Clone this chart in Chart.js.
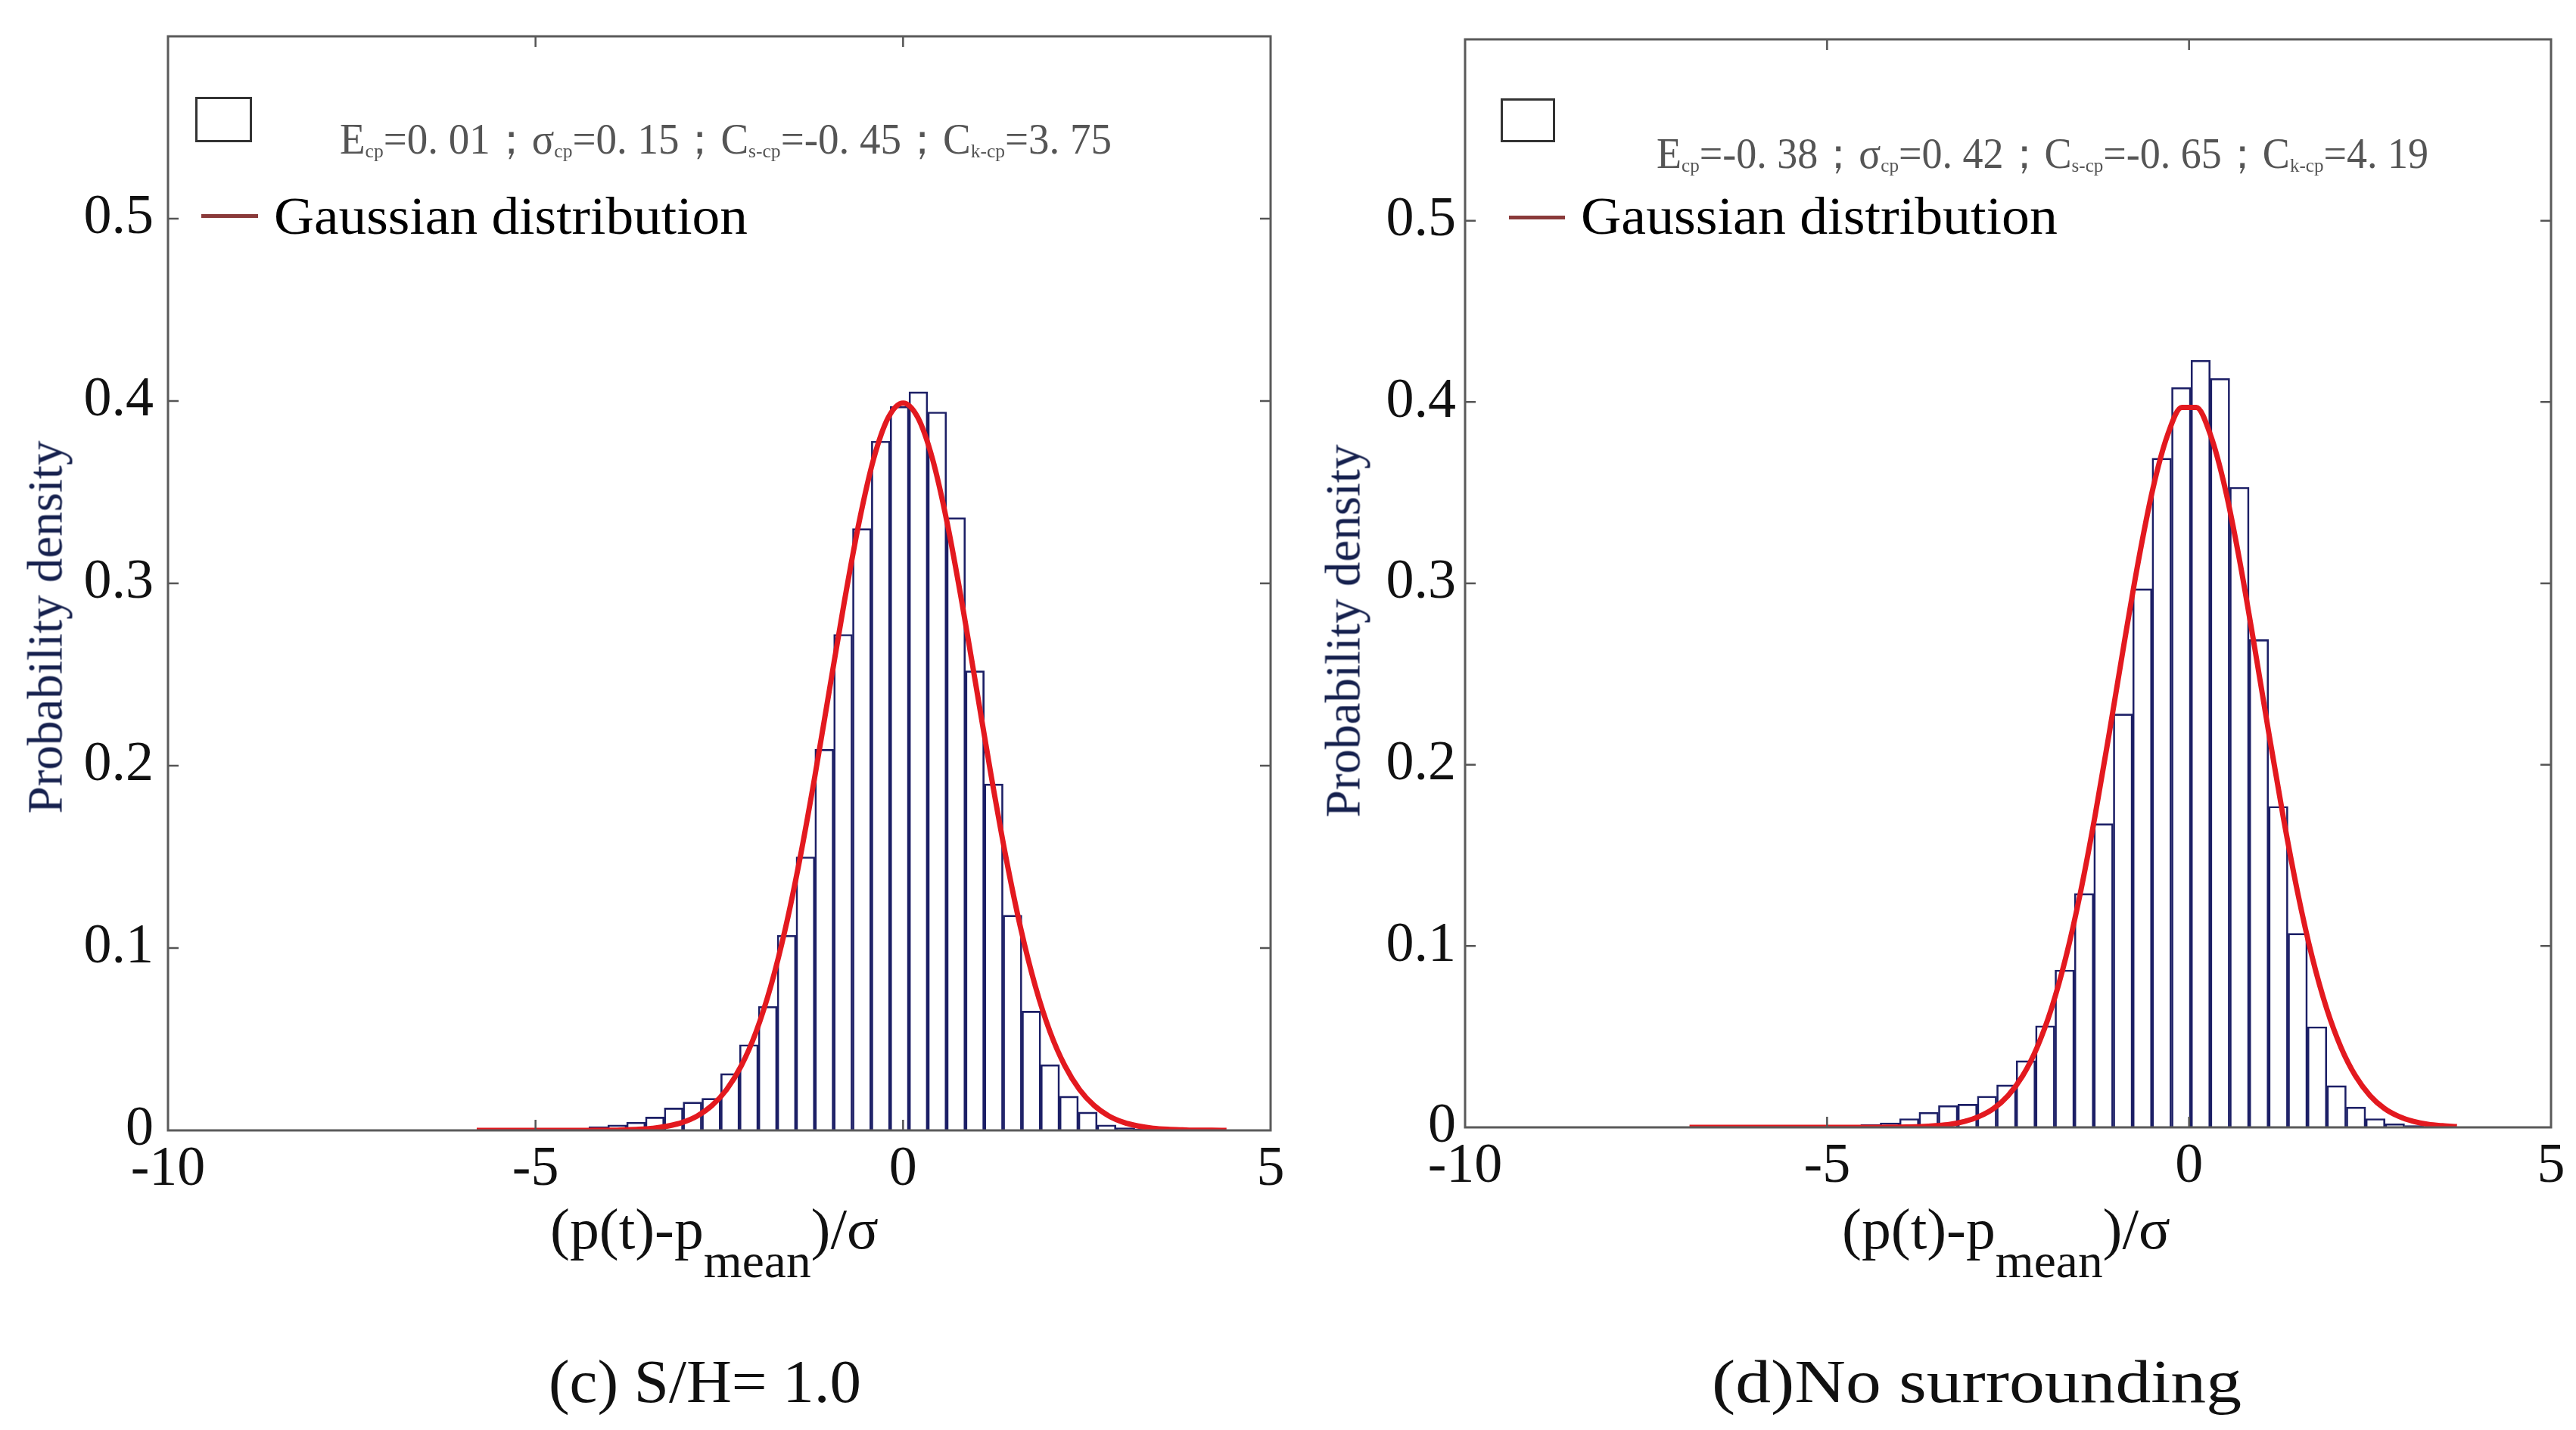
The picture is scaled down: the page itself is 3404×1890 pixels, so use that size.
<!DOCTYPE html>
<html>
<head>
<meta charset="utf-8">
<script src="https://cdn.jsdelivr.net/npm/chart.js@4.4.1/dist/chart.umd.min.js"></script>
<style>
html,body{margin:0;padding:0;background:#fff;}
#wrap{position:relative;width:3404px;height:1890px;overflow:hidden;background:#fff;font-family:"Liberation Serif","Times New Roman",serif;}
canvas{position:absolute;}
.t{position:absolute;white-space:nowrap;line-height:1;color:#111;}
.stat{font-size:56px;color:#555;}
.stat sub{font-size:26px;vertical-align:-5px;}
.gl{font-size:70px;color:#000;}
.cap{font-size:80px;color:#111;}
.xt{font-size:76px;color:#111;}
.xt span{font-size:64px;position:relative;top:38px;}
.yt{font-size:65px;color:#16214e;transform:translate(-50%,-50%) rotate(-90deg);}
.box{position:absolute;border:3px solid #333;box-sizing:border-box;}
.ln{position:absolute;height:5px;background:#8a3a3a;}
</style>
</head>
<body>
<div id="wrap">
<canvas id="c1" width="1700" height="1620" style="left:0;top:0"></canvas>
<canvas id="c2" width="1704" height="1620" style="left:1700px;top:0"></canvas>

<div class="box" style="left:258px;top:128px;width:75px;height:60px"></div>
<div class="t stat" id="s1" style="left:449px;top:156px">E<sub>cp</sub>=0. 01；σ<sub>cp</sub>=0. 15；C<sub>s-cp</sub>=-0. 45；C<sub>k-cp</sub>=3. 75</div>
<div class="ln" style="left:266px;top:283px;width:75px"></div>
<div class="t gl" id="g1" style="left:362px;top:251px">Gaussian distribution</div>

<div class="box" style="left:1983px;top:130px;width:72px;height:58px"></div>
<div class="t stat" id="s2" style="left:2189px;top:175px">E<sub>cp</sub>=-0. 38；σ<sub>cp</sub>=0. 42；C<sub>s-cp</sub>=-0. 65；C<sub>k-cp</sub>=4. 19</div>
<div class="ln" style="left:1994px;top:285px;width:74px"></div>
<div class="t gl" id="g2" style="left:2089px;top:251px">Gaussian distribution</div>

<div class="t yt" style="left:60px;top:829px">Probability density</div>
<div class="t yt" style="left:1775px;top:834px">Probability density</div>

<div class="t xt" id="x1" style="left:727px;top:1586px">(p(t)-p<span>mean</span>)/σ</div>
<div class="t xt" id="x2" style="left:2434px;top:1586px">(p(t)-p<span>mean</span>)/σ</div>

<div class="t cap" id="cp1" style="left:725px;top:1786px">(c) S/H= 1.0</div>
<div class="t cap" id="cp2" style="left:2262px;top:1786px">(d)No surrounding</div>
</div>

<script>
// ---------------- DATA ----------------
// (c) S/H = 1.0 : histogram bin centres and probability densities
const binCentersC = [-5.682,-5.426,-5.170,-4.914,-4.658,-4.402,-4.146,-3.889,-3.633,-3.377,
  -3.121,-2.865,-2.609,-2.353,-2.097,-1.841,-1.584,-1.328,-1.072,-0.816,
  -0.560,-0.304,-0.048,0.208,0.464,0.721,0.977,1.233,1.489,1.745,
  2.001,2.257,2.513,2.769,3.025,3.282,3.538,3.794,4.050,4.306];
const densityC = [0.0003,0.0003,0.0003,0.0005,0.0005,0.0008,0.002,0.003,0.0045,0.0073,
  0.0123,0.0155,0.0176,0.0312,0.047,0.068,0.107,0.150,0.209,0.272,
  0.330,0.378,0.397,0.405,0.394,0.336,0.252,0.190,0.118,0.0654,
  0.036,0.0187,0.010,0.003,0.0014,0.0008,0.0005,0.0003,0.0003,0.0003];

// (d) No surrounding
const binCentersD = [-6.816,-6.548,-6.279,-6.011,-5.743,-5.474,-5.206,-4.938,-4.670,-4.401,
  -4.133,-3.865,-3.596,-3.328,-3.060,-2.791,-2.523,-2.255,-1.987,-1.718,
  -1.450,-1.182,-0.913,-0.645,-0.377,-0.108,0.160,0.428,0.696,0.965,
  1.233,1.501,1.770,2.038,2.306,2.574,2.843,3.111,3.379,3.648];
const densityD = [0.0002,0.0002,0.0002,0.0002,0.0002,0.0002,0.0002,0.0004,0.0008,0.0015,
  0.0025,0.0048,0.0083,0.012,0.0128,0.0172,0.0234,0.0368,0.056,0.0868,
  0.129,0.1675,0.228,0.297,0.369,0.408,0.423,0.413,0.353,0.269,
  0.177,0.107,0.0555,0.023,0.0112,0.0048,0.002,0.001,0.0005,0.0003];

// Gaussian distribution curves
const gaussXC = [-5.8,-5.6,-5.4,-5.2,-5.0,-4.8,-4.6,-4.4,-4.2,-4.0,-3.8,-3.6,-3.4,-3.2,-3.0,-2.8,-2.6,-2.4,-2.2,-2.0,
  -1.8,-1.6,-1.4,-1.2,-1.0,-0.8,-0.6,-0.4,-0.2,0.0,0.2,0.4,0.6,0.8,1.0,1.2,1.4,1.6,1.8,2.0,
  2.2,2.4,2.6,2.8,3.0,3.2,3.4,3.6,3.8,4.0,4.2,4.4];
const gaussYC = [0,0,0,0,0,0,0,0,0.0001,0.0001,0.0003,0.0006,0.0012,0.0024,0.0044,0.0079,0.0136,0.0224,0.0355,0.0540,
  0.0790,0.1109,0.1497,0.1942,0.2420,0.2897,0.3332,0.3683,0.3910,0.3989,0.3910,0.3683,0.3332,0.2897,0.2420,0.1942,0.1497,0.1109,0.0790,0.0540,
  0.0355,0.0224,0.0136,0.0079,0.0044,0.0024,0.0012,0.0006,0.0003,0.0001,0.0001,0];
const gaussXD = [-6.9,-6.7,-6.5,-6.3,-6.1,-5.9,-5.7,-5.5,-5.3,-5.1,-4.9,-4.7,-4.5,-4.3,-4.1,-3.9,-3.7,-3.5,-3.3,-3.1,
  -2.9,-2.7,-2.5,-2.3,-2.1,-1.9,-1.7,-1.5,-1.3,-1.1,-0.9,-0.7,-0.5,-0.3,-0.1,0.1,0.3,0.5,0.7,0.9,
  1.1,1.3,1.5,1.7,1.9,2.1,2.3,2.5,2.7,2.9,3.1,3.3,3.5,3.7];
const gaussYD = [0,0,0,0,0,0,0,0,0,0,0,0,0,0,0.0001,0.0002,0.0004,0.0009,0.0017,0.0033,
  0.0060,0.0104,0.0175,0.0283,0.0440,0.0656,0.0940,0.1295,0.1714,0.2179,0.2661,0.3123,0.3521,0.3814,0.3970,0.3970,0.3814,0.3521,0.3123,0.2661,
  0.2179,0.1714,0.1295,0.0940,0.0656,0.0440,0.0283,0.0175,0.0104,0.0060,0.0033,0.0017,0.0009,0.0004];

const xTickValues = [-10,-5,0,5];
const yTickValues = [0,0.1,0.2,0.3,0.4,0.5];
const xRange = [-10,5];
const yRange = [0,0.6];

// ---------------- CHARTS ----------------
Chart.defaults.font.family = '"Liberation Serif","Times New Roman",serif';

const frameTicks = {
  id:'frameTicks',
  afterDatasetsDraw(chart){
    const {ctx, chartArea:a, scales:{x, y}} = chart;
    ctx.save();
    ctx.strokeStyle = '#555';
    ctx.lineWidth = 2.5;
    const L = 14;
    xTickValues.forEach(v=>{
      const px = x.getPixelForValue(v);
      if (px <= a.left+2 || px >= a.right-2) return;
      ctx.beginPath();
      ctx.moveTo(px, a.bottom); ctx.lineTo(px, a.bottom-L);
      ctx.moveTo(px, a.top); ctx.lineTo(px, a.top+L);
      ctx.stroke();
    });
    yTickValues.forEach(v=>{
      const py = y.getPixelForValue(v);
      if (py >= a.bottom-2 || py <= a.top+2) return;
      ctx.beginPath();
      ctx.moveTo(a.left, py); ctx.lineTo(a.left+L, py);
      ctx.moveTo(a.right, py); ctx.lineTo(a.right-L, py);
      ctx.stroke();
    });
    ctx.lineWidth = 3;
    ctx.strokeStyle = '#5a5a5a';
    ctx.strokeRect(a.left, a.top, a.right-a.left, a.bottom-a.top);
    ctx.restore();
  }
};

function noPad(s){ s.paddingTop = 0; s.paddingBottom = 0; s.paddingLeft = 0; s.paddingRight = 0; }

function makeChart(id, centers, dens, gx, gy, geo){
  const bars = centers.map((c,i)=>({x:c, y:dens[i]}));
  const curve = gx.map((c,i)=>({x:c, y:gy[i]}));
  return new Chart(document.getElementById(id), {
    data:{
      datasets:[
        {type:'line', data:curve, borderColor:'#e3191f', borderWidth:7, pointRadius:0,
         cubicInterpolationMode:'monotone', fill:false, order:0},
        {type:'bar', data:bars, backgroundColor:'rgba(255,255,255,0)', borderColor:'#1c1f66',
         borderWidth:2, barPercentage:1, categoryPercentage:1, order:1}
      ]
    },
    options:{
      responsive:false, animation:false, devicePixelRatio:1,
      layout:{padding:{left:0, top:geo.top, right:geo.right, bottom:0}},
      plugins:{legend:{display:false}, tooltip:{enabled:false}},
      scales:{
        x:{type:'linear', min:xRange[0], max:xRange[1], offset:false,
           grid:{display:false, drawTicks:false, tickLength:0}, border:{display:false},
           afterBuildTicks:s=>{ s.ticks = xTickValues.map(v=>({value:v})); },
           afterFit:s=>{ s.height = geo.xh; noPad(s); },
           ticks:{font:{size:74}, color:'#111', padding:8, maxRotation:0, autoSkip:false}},
        y:{type:'linear', min:yRange[0], max:yRange[1],
           grid:{display:false, drawTicks:false, tickLength:0}, border:{display:false},
           afterBuildTicks:s=>{ s.ticks = yTickValues.map(v=>({value:v})); },
           afterFit:s=>{ s.width = geo.yw; noPad(s); },
           ticks:{font:{size:74}, color:'#111', padding:geo.ypad,
                  callback:v=>String(+v.toFixed(1))}}
      }
    },
    plugins:[frameTicks]
  });
}

makeChart('c1', binCentersC, densityC, gaussXC, gaussYC, {top:48, right:21, xh:126, yw:222, ypad:19});
makeChart('c2', binCentersD, densityD, gaussXD, gaussYD, {top:52, right:33, xh:130, yw:236, ypad:12});

// fit a few text blocks to their measured widths in the reference
function fitW(id, w){
  const el = document.getElementById(id);
  const r = el.getBoundingClientRect().width;
  el.style.transformOrigin = '0 0';
  el.style.transform = 'scaleX(' + (w/r) + ')';
}
fitW('s1', 1020); fitW('s2', 1020);
fitW('g1', 626); fitW('g2', 630);
fitW('x1', 434); fitW('x2', 434);
fitW('cp1', 413); fitW('cp2', 700);
</script>
</body>
</html>
